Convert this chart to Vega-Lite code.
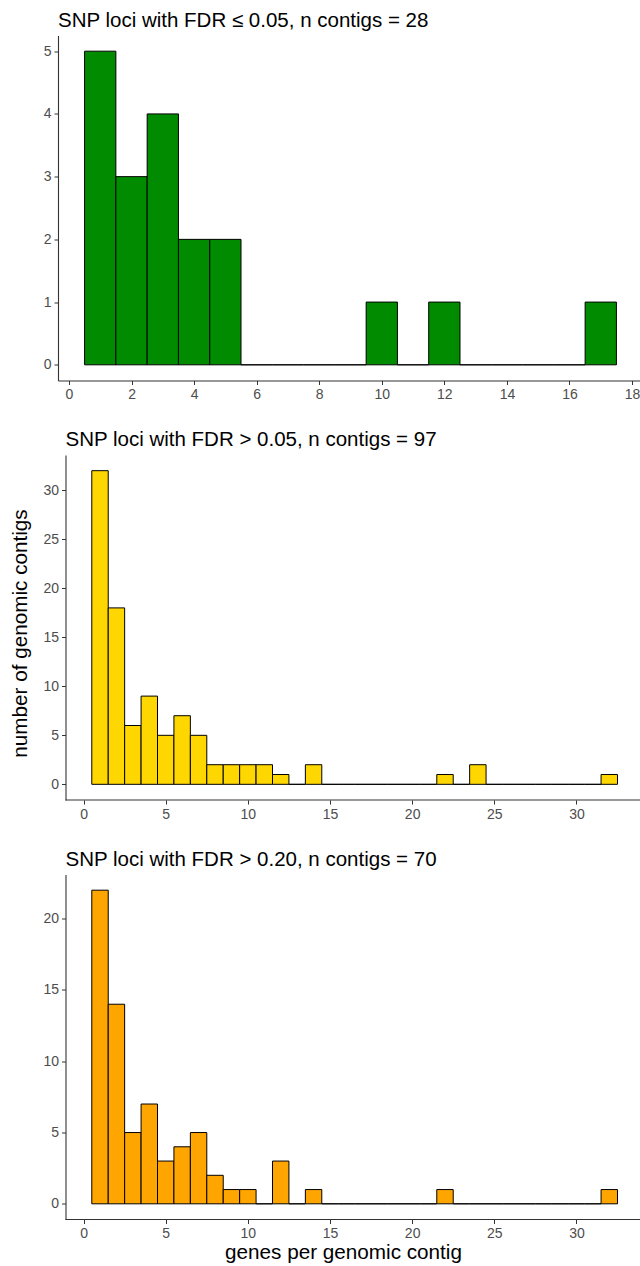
{
  "$schema": "https://vega.github.io/schema/vega-lite/v6.json",
  "background": "white",
  "padding": {"left": 9, "top": 10.5, "right": 0, "bottom": 0},
  "spacing": 28.5,
  "config": {
    "font": "Liberation Sans",
    "view": {"stroke": null},
    "axis": {
      "grid": false,
      "domainColor": "#333333",
      "domainWidth": 1.1,
      "tickColor": "#333333",
      "tickSize": 4,
      "tickWidth": 1,
      "labelColor": "#4d4d4d",
      "labelFont": "Liberation Sans",
      "labelFontSize": 14,
      "labelPadding": 3,
      "titleFont": "Liberation Sans",
      "titleFontSize": 20.7,
      "titleFontWeight": "normal",
      "titleColor": "black",
      "titlePadding": 12
    },
    "title": {
      "font": "Liberation Sans",
      "fontSize": 20.5,
      "fontWeight": "normal",
      "color": "black",
      "anchor": "start",
      "frame": "group",
      "baseline": "alphabetic",
      "offset": 4.5
    }
  },
  "datasets": {
    "p1": [
      {"lo": 0.5, "hi": 1.5, "n": 5}, {"lo": 1.5, "hi": 2.5, "n": 3}, {"lo": 2.5, "hi": 3.5, "n": 4},
      {"lo": 3.5, "hi": 4.5, "n": 2}, {"lo": 4.5, "hi": 5.5, "n": 2}, {"lo": 5.5, "hi": 6.5, "n": 0},
      {"lo": 6.5, "hi": 7.5, "n": 0}, {"lo": 7.5, "hi": 8.5, "n": 0}, {"lo": 8.5, "hi": 9.5, "n": 0},
      {"lo": 9.5, "hi": 10.5, "n": 1}, {"lo": 10.5, "hi": 11.5, "n": 0}, {"lo": 11.5, "hi": 12.5, "n": 1},
      {"lo": 12.5, "hi": 13.5, "n": 0}, {"lo": 13.5, "hi": 14.5, "n": 0}, {"lo": 14.5, "hi": 15.5, "n": 0},
      {"lo": 15.5, "hi": 16.5, "n": 0}, {"lo": 16.5, "hi": 17.5, "n": 1}
    ],
    "p2": [
      {"lo": 0.5, "hi": 1.5, "n": 32}, {"lo": 1.5, "hi": 2.5, "n": 18}, {"lo": 2.5, "hi": 3.5, "n": 6},
      {"lo": 3.5, "hi": 4.5, "n": 9}, {"lo": 4.5, "hi": 5.5, "n": 5}, {"lo": 5.5, "hi": 6.5, "n": 7},
      {"lo": 6.5, "hi": 7.5, "n": 5}, {"lo": 7.5, "hi": 8.5, "n": 2}, {"lo": 8.5, "hi": 9.5, "n": 2},
      {"lo": 9.5, "hi": 10.5, "n": 2}, {"lo": 10.5, "hi": 11.5, "n": 2}, {"lo": 11.5, "hi": 12.5, "n": 1},
      {"lo": 12.5, "hi": 13.5, "n": 0}, {"lo": 13.5, "hi": 14.5, "n": 2}, {"lo": 14.5, "hi": 15.5, "n": 0},
      {"lo": 15.5, "hi": 16.5, "n": 0}, {"lo": 16.5, "hi": 17.5, "n": 0}, {"lo": 17.5, "hi": 18.5, "n": 0},
      {"lo": 18.5, "hi": 19.5, "n": 0}, {"lo": 19.5, "hi": 20.5, "n": 0}, {"lo": 20.5, "hi": 21.5, "n": 0},
      {"lo": 21.5, "hi": 22.5, "n": 1}, {"lo": 22.5, "hi": 23.5, "n": 0}, {"lo": 23.5, "hi": 24.5, "n": 2},
      {"lo": 24.5, "hi": 25.5, "n": 0}, {"lo": 25.5, "hi": 26.5, "n": 0}, {"lo": 26.5, "hi": 27.5, "n": 0},
      {"lo": 27.5, "hi": 28.5, "n": 0}, {"lo": 28.5, "hi": 29.5, "n": 0}, {"lo": 29.5, "hi": 30.5, "n": 0},
      {"lo": 30.5, "hi": 31.5, "n": 0}, {"lo": 31.5, "hi": 32.5, "n": 1}
    ],
    "p3": [
      {"lo": 0.5, "hi": 1.5, "n": 22}, {"lo": 1.5, "hi": 2.5, "n": 14}, {"lo": 2.5, "hi": 3.5, "n": 5},
      {"lo": 3.5, "hi": 4.5, "n": 7}, {"lo": 4.5, "hi": 5.5, "n": 3}, {"lo": 5.5, "hi": 6.5, "n": 4},
      {"lo": 6.5, "hi": 7.5, "n": 5}, {"lo": 7.5, "hi": 8.5, "n": 2}, {"lo": 8.5, "hi": 9.5, "n": 1},
      {"lo": 9.5, "hi": 10.5, "n": 1}, {"lo": 10.5, "hi": 11.5, "n": 0}, {"lo": 11.5, "hi": 12.5, "n": 3},
      {"lo": 12.5, "hi": 13.5, "n": 0}, {"lo": 13.5, "hi": 14.5, "n": 1}, {"lo": 14.5, "hi": 15.5, "n": 0},
      {"lo": 15.5, "hi": 16.5, "n": 0}, {"lo": 16.5, "hi": 17.5, "n": 0}, {"lo": 17.5, "hi": 18.5, "n": 0},
      {"lo": 18.5, "hi": 19.5, "n": 0}, {"lo": 19.5, "hi": 20.5, "n": 0}, {"lo": 20.5, "hi": 21.5, "n": 0},
      {"lo": 21.5, "hi": 22.5, "n": 1}, {"lo": 22.5, "hi": 23.5, "n": 0}, {"lo": 23.5, "hi": 24.5, "n": 0},
      {"lo": 24.5, "hi": 25.5, "n": 0}, {"lo": 25.5, "hi": 26.5, "n": 0}, {"lo": 26.5, "hi": 27.5, "n": 0},
      {"lo": 27.5, "hi": 28.5, "n": 0}, {"lo": 28.5, "hi": 29.5, "n": 0}, {"lo": 29.5, "hi": 30.5, "n": 0},
      {"lo": 30.5, "hi": 31.5, "n": 0}, {"lo": 31.5, "hi": 32.5, "n": 1}
    ],
    "axisline2": [{"from": -1.1, "to": 33.9, "base": -1.6}],
    "axisline3": [{"from": -1.1, "to": 33.9, "base": -1.1}]
  },
  "vconcat": [
    {
      "data": {"name": "p1"},
      "width": 582.5,
      "height": 345,
      "title": {"text": "SNP loci with FDR ≤ 0.05, n contigs = 28"},
      "mark": {"type": "rect", "fill": "#008B00", "stroke": "black", "strokeWidth": 1},
      "encoding": {
        "x": {"field": "lo", "type": "quantitative", "scale": {"domain": [-0.35, 18.27], "nice": false, "zero": false}, "axis": {"values": [0, 2, 4, 6, 8, 10, 12, 14, 16, 18], "title": null}},
        "x2": {"field": "hi"},
        "y": {"field": "n", "type": "quantitative", "scale": {"domain": [-0.25, 5.25], "nice": false, "zero": false}, "axis": {"values": [0, 1, 2, 3, 4, 5], "title": null}},
        "y2": {"datum": 0}
      }
    },
    {
      "width": 582.5,
      "height": 345,
      "title": {"text": "SNP loci with FDR > 0.05, n contigs = 97", "dx": 7.5},
      "layer": [
        {
          "data": {"name": "p2"},
          "mark": {"type": "rect", "fill": "#FFD700", "stroke": "black", "strokeWidth": 1},
          "encoding": {
            "x": {"field": "lo", "type": "quantitative", "scale": {"domain": [-1.557, 33.9], "nice": false, "zero": false}, "axis": {"values": [0, 5, 10, 15, 20, 25, 30], "title": null, "domain": false}},
            "x2": {"field": "hi"},
            "y": {"field": "n", "type": "quantitative", "scale": {"domain": [-1.6, 33.6], "nice": false, "zero": false}, "axis": {"values": [0, 5, 10, 15, 20, 25, 30], "title": "number of genomic contigs", "titleY": 178, "offset": -7.5}},
            "y2": {"datum": 0}
          }
        },
        {
          "data": {"name": "axisline2"},
          "mark": {"type": "rule", "color": "#333333", "strokeWidth": 1.1},
          "encoding": {
            "x": {"field": "from", "type": "quantitative"},
            "x2": {"field": "to"},
            "y": {"field": "base", "type": "quantitative"}
          }
        }
      ]
    },
    {
      "width": 582.5,
      "height": 345,
      "title": {"text": "SNP loci with FDR > 0.20, n contigs = 70", "dx": 7.5},
      "layer": [
        {
          "data": {"name": "p3"},
          "mark": {"type": "rect", "fill": "#FFA500", "stroke": "black", "strokeWidth": 1},
          "encoding": {
            "x": {"field": "lo", "type": "quantitative", "scale": {"domain": [-1.557, 33.9], "nice": false, "zero": false}, "axis": {"values": [0, 5, 10, 15, 20, 25, 30], "title": "genes per genomic contig", "titleX": 285, "titleY": 39, "titleBaseline": "alphabetic", "domain": false}},
            "x2": {"field": "hi"},
            "y": {"field": "n", "type": "quantitative", "scale": {"domain": [-1.1, 23.1], "nice": false, "zero": false}, "axis": {"values": [0, 5, 10, 15, 20], "title": null, "offset": -7.5}},
            "y2": {"datum": 0}
          }
        },
        {
          "data": {"name": "axisline3"},
          "mark": {"type": "rule", "color": "#333333", "strokeWidth": 1.1},
          "encoding": {
            "x": {"field": "from", "type": "quantitative"},
            "x2": {"field": "to"},
            "y": {"field": "base", "type": "quantitative"}
          }
        }
      ]
    }
  ]
}
